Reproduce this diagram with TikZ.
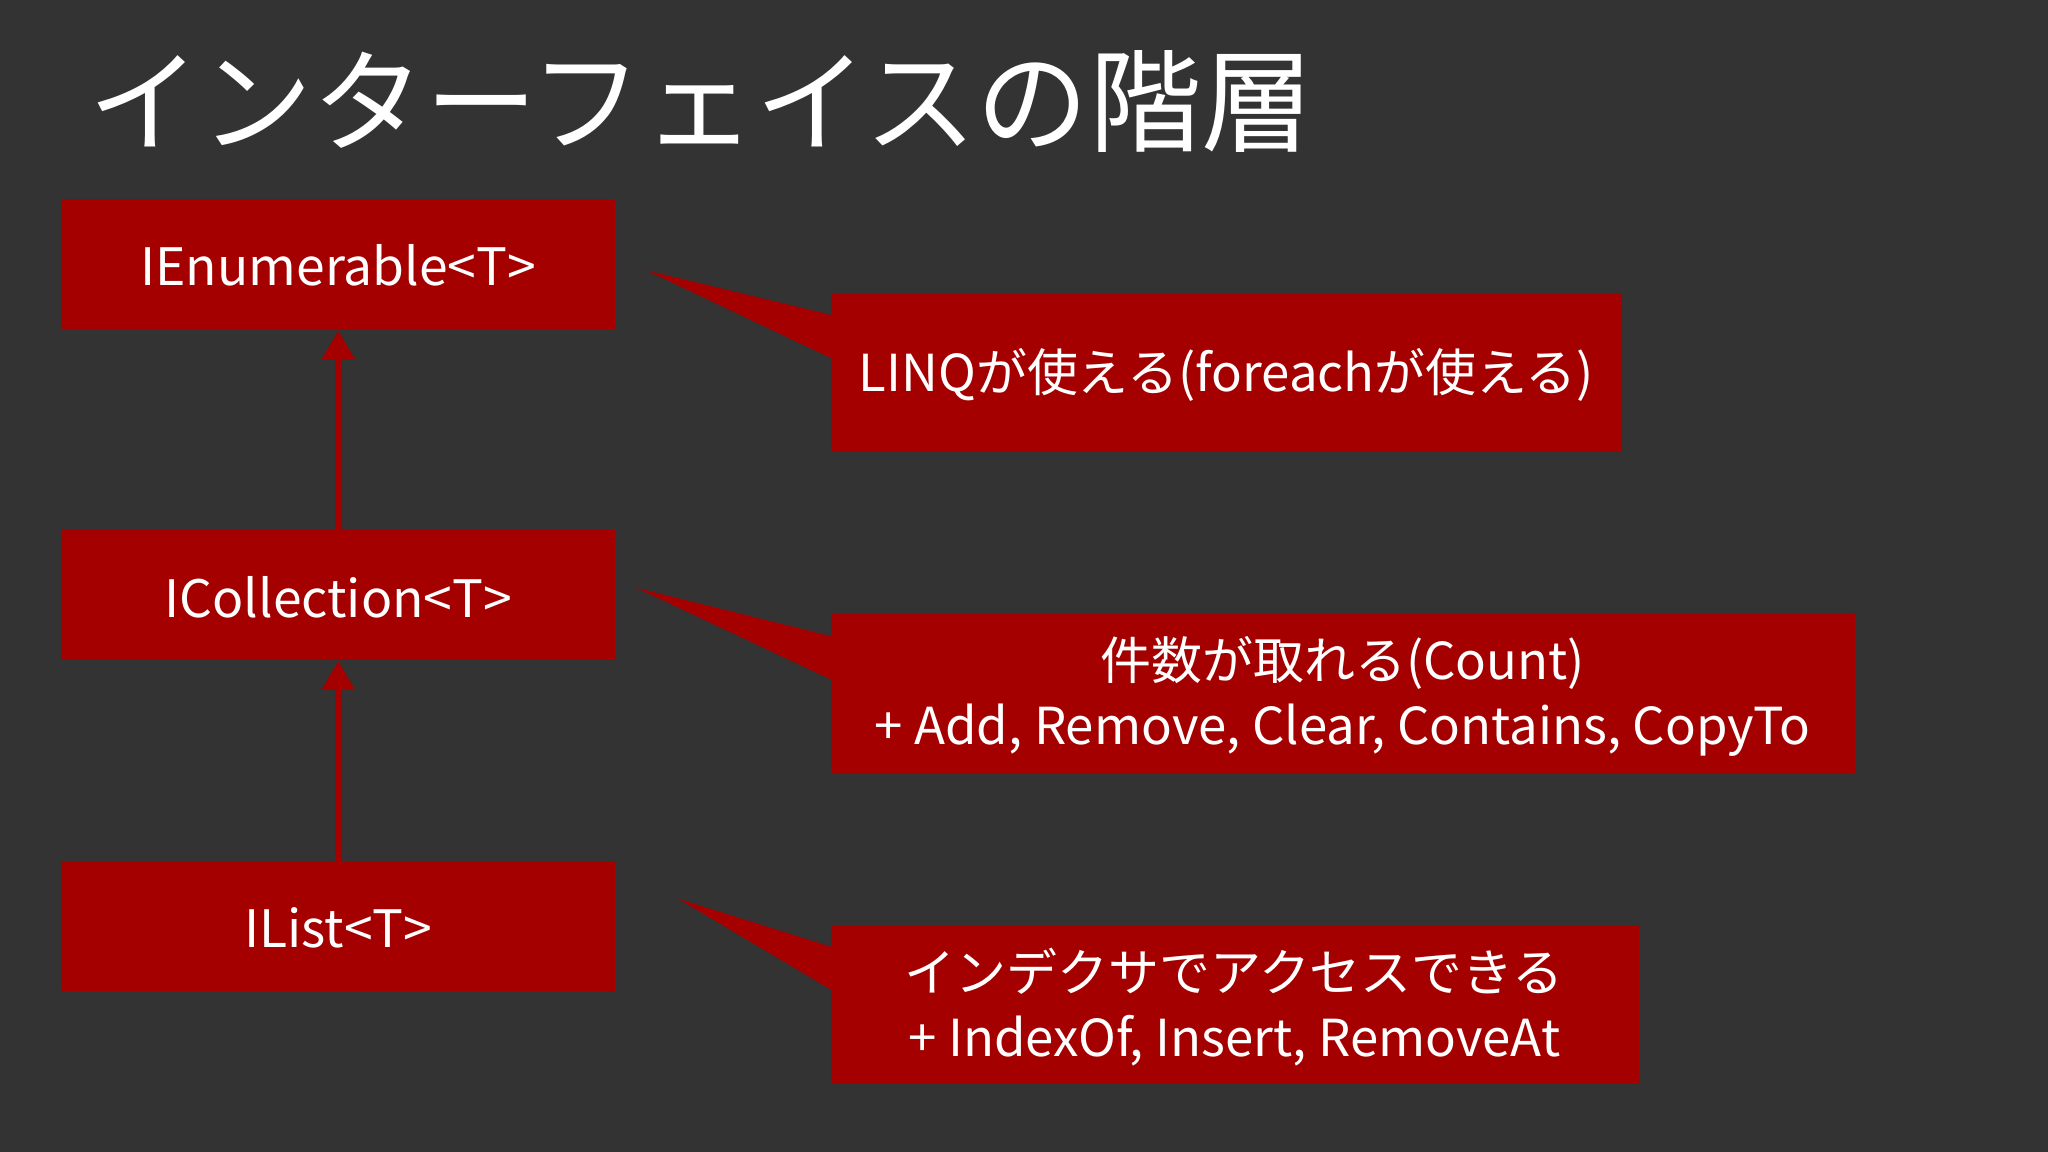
\documentclass[tikz,border=0pt]{standalone}
\usepackage{fontspec}
\setmainfont{Noto Sans CJK JP}
\usetikzlibrary{arrows.meta}
\definecolor{bg}{HTML}{333333}
\definecolor{boxred}{HTML}{A50000}
\tikzset{
  lbox/.style={fill=boxred,draw=none,text=white,font=\fontsize{39.5}{44}\selectfont},
  ctext/.style={text=white,font=\fontsize{39}{50}\selectfont,align=center},
  up/.style={draw=boxred,line width=5pt,-{Triangle[width=24pt,length=22pt]}}
}
\begin{document}
\begin{tikzpicture}[x=1pt,y=-1pt]
\fill[bg] (0,0) rectangle (1568,882);
\useasboundingbox (0,0) rectangle (1568,882);
\node[anchor=west,text=white,font=\fontsize{86}{96}\selectfont] (title) at (64,78) {インターフェイスの階層};
% left boxes
\fill[boxred] (47,152) rectangle (471,252);
\node[lbox] (ie) at (259,203) {IEnumerable<T>};
\fill[boxred] (47,406) rectangle (471,505);
\node[lbox] (ic) at (259,457) {ICollection<T>};
\fill[boxred] (47,659) rectangle (471,759);
\node[lbox] (il) at (259,710) {IList<T>};
\coordinate (a1s) at (259,406); \coordinate (a1e) at (259,253);
\coordinate (a2s) at (259,659); \coordinate (a2e) at (259,506);
\draw[up] (a1s) -- (a1e);
\draw[up] (a2s) -- (a2e);
% callouts
\fill[boxred] (495,207) -- (640,242) -- (640,276) -- cycle;
\fill[boxred] (636,224) rectangle (1242,346);
\node[ctext] (c1) at (939,287) {LINQが使える(foreachが使える)};
\fill[boxred] (487,450) -- (640,488) -- (640,522) -- cycle;
\fill[boxred] (636,469) rectangle (1420,592);
\node[ctext] (c2) at (1028,533) {件数が取れる(Count)\\+ Add, Remove, Clear, Contains, CopyTo};
\fill[boxred] (519,688) -- (640,726) -- (640,760) -- cycle;
\fill[boxred] (636,708) rectangle (1255,830);
\node[ctext] (c3) at (945,771) {インデクサでアクセスできる\\+ IndexOf, Insert, RemoveAt};
\end{tikzpicture}
\end{document}
